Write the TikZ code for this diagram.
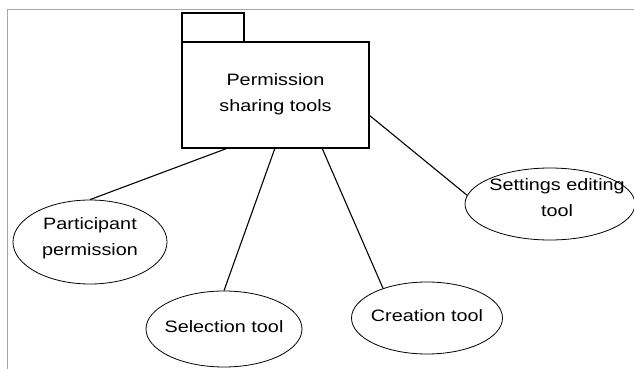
\documentclass[tikz,border=0pt]{standalone}
\usepackage{fontspec}
\setmainfont{Liberation Sans}[FakeStretch=1.2]
\usetikzlibrary{shapes.geometric}
\begin{document}
\begin{tikzpicture}[x=1pt,y=-1pt,
  pkgline/.style={draw=black,line width=1.1pt},
  usecase/.style={draw=black,line width=0.8pt,ellipse,inner sep=0pt},
  label/.style={font=\fontsize{16.5}{26}\selectfont,align=center,inner sep=0pt},
  link/.style={draw=black,line width=1.1pt}]
  \useasboundingbox (0,0) rectangle (634,369);
  % page frame
  \draw[gray!70,line width=0.8pt] (7,369) -- (7,9) -- (634,9);
  % package symbol
  \draw[pkgline] (182,13) rectangle (244,42);
  \node[pkgline,rectangle,minimum width=187pt,minimum height=106pt,inner sep=0pt] (pkg) at (275.5,95) {};
  \node[label] (pkgtext) at (275.5,94) {Permission\\sharing tools};
  % use cases
  \node[usecase,minimum width=154pt,minimum height=84pt] (part) at (90,242) {};
  \node[label] at (90,238) {Participant\\permission};
  \node[usecase,minimum width=156pt,minimum height=76pt] (sel) at (224,329) {};
  \node[label] at (224,327) {Selection tool};
  \node[usecase,minimum width=151pt,minimum height=72pt] (cre) at (427,318) {};
  \node[label] at (427,316) {Creation tool};
  \node[usecase,minimum width=170pt,minimum height=72pt] (set) at (550,204) {};
  \node[label] at (557,198) {Settings editing\\tool};
  % connectors
  \coordinate (p1) at (228,148);
  \coordinate (p2) at (275,148);
  \coordinate (p3) at (322,148);
  \coordinate (p4) at (369,115);
  \draw[link] (p1) -- (part.north);
  \draw[link] (p2) -- (sel.north);
  \draw[link] (p3) -- (cre.146);
  \draw[link] (p4) -- (set.174);
\end{tikzpicture}
\end{document}
